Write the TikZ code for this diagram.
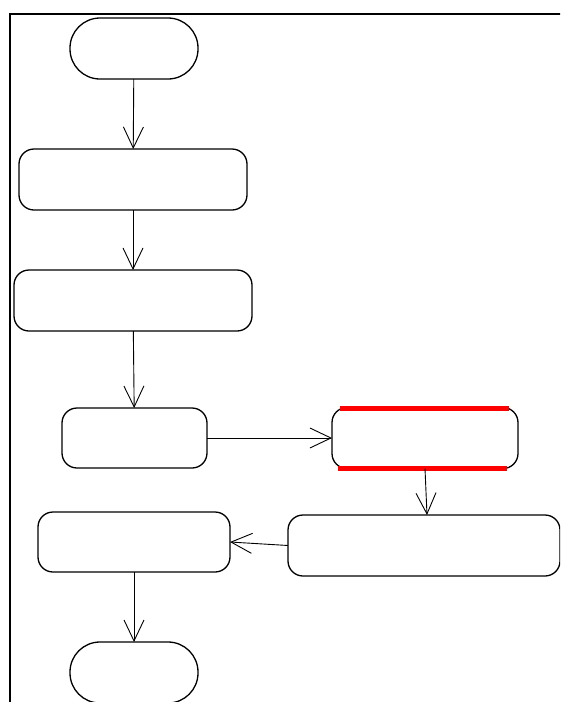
\documentclass[tikz,border=0pt]{standalone}
\usetikzlibrary{arrows.meta}
\tikzset{
  box/.style={draw=black, line width=1.3pt, rectangle, rounded corners=15pt, inner sep=0pt, outer sep=0pt, fill=white},
  terminal/.style={box, rounded corners=30pt, minimum width=128pt, minimum height=61pt},
  flow/.style={draw=black, line width=0.9pt, -{Straight Barb[length=21pt,width=20pt,line width=0.9pt]}},
  redbar/.style={draw=red, line width=5pt},
  frame/.style={draw=black, line width=2.5pt}
}
\begin{document}
\begin{tikzpicture}[x=1pt,y=-1pt]
\useasboundingbox (0,0) rectangle (560,702);
\clip (0,0) rectangle (560,702);
\draw[frame] (10,710) -- (10,14) -- (570,14);
\node[terminal] (start) at (134,48.5) {};
\node[box, minimum width=228pt, minimum height=61pt] (b2) at (133,179.5) {};
\node[box, minimum width=238pt, minimum height=61pt] (b3) at (133,300.5) {};
\node[box, minimum width=145pt, minimum height=60pt] (b4) at (134.5,438) {};
\node[box, minimum width=186pt, minimum height=61pt] (act) at (425,438) {};
\draw[redbar] (340,408.5) -- (509,408.5);
\draw[redbar] (338,468.5) -- (507,468.5);
\node[box, minimum width=272pt, minimum height=61pt] (b6) at (424,545.5) {};
\node[box, minimum width=192pt, minimum height=60pt] (b5) at (134,542) {};
\node[terminal] (stop) at (134,672.5) {};
\draw[flow] (start) -- (b2);
\draw[flow] (b2) -- (b3);
\draw[flow] (b3) -- (b4);
\draw[flow] (b4) -- (act);
\draw[flow] (act.south) -- ([xshift=3pt]b6.north);
\draw[flow] (b6.west) -- (b5.east);
\draw[flow] (b5) -- (stop);
\end{tikzpicture}
\end{document}
